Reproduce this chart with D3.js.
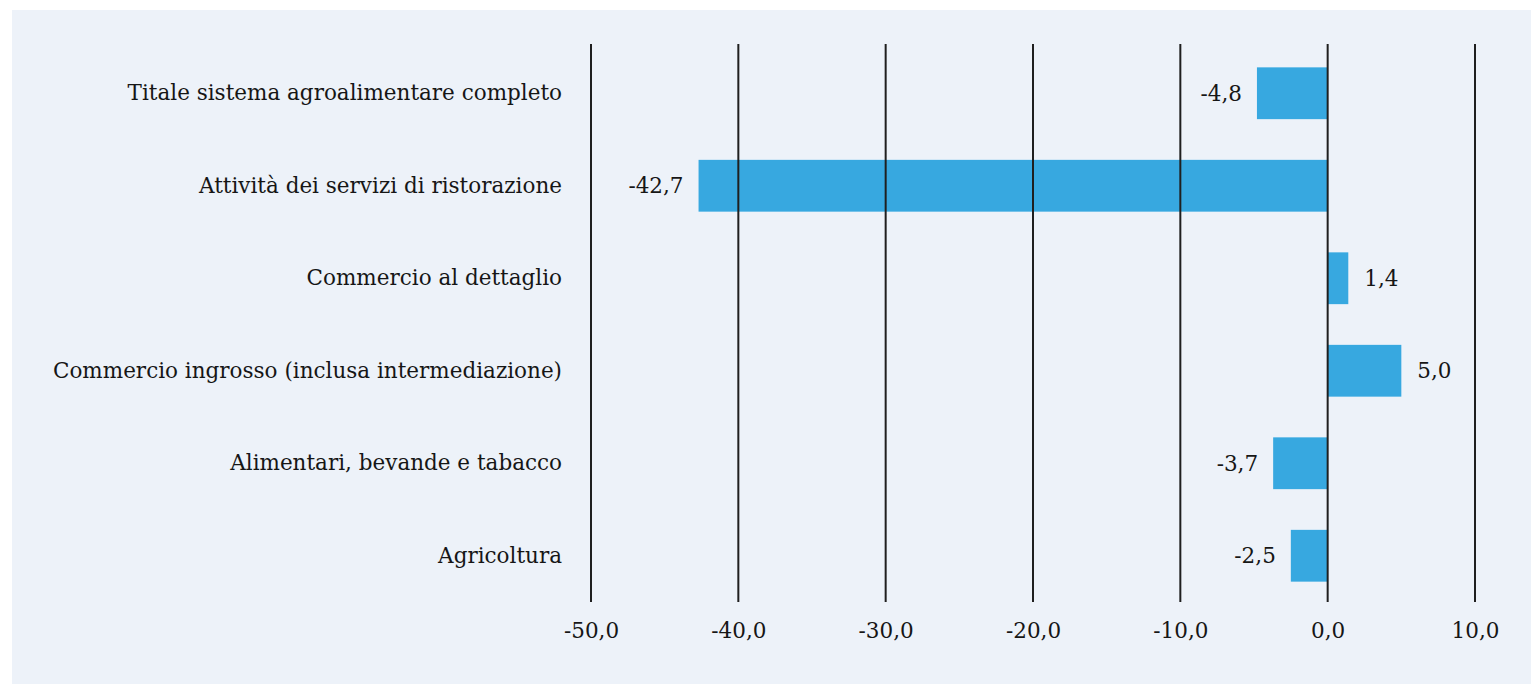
<!DOCTYPE html>
<html>
<head>
<meta charset="utf-8">
<script src="https://cdn.jsdelivr.net/npm/d3@7/dist/d3.min.js"></script>
<style>
  html, body { margin: 0; padding: 0; background: #ffffff; }
  svg { display: block; }
  text { font-family: "DejaVu Serif", "Liberation Serif", serif; fill: #161616; }
</style>
</head>
<body>
<svg id="chart" width="1531" height="684"></svg>
<script>
// Variazione percentuale per comparto del sistema agroalimentare
const categories = [
  "Titale sistema agroalimentare completo",
  "Attività dei servizi di ristorazione",
  "Commercio al dettaglio",
  "Commercio ingrosso (inclusa intermediazione)",
  "Alimentari, bevande e tabacco",
  "Agricoltura"
];
const values = [-4.8, -42.7, 1.4, 5.0, -3.7, -2.5];
const tickValues = [-50, -40, -30, -20, -10, 0, 10];

const svg = d3.select("#chart");
const W = 1531, H = 684;

// panel background
svg.append("rect")
  .attr("x", 12).attr("y", 10)
  .attr("width", W - 12).attr("height", H - 10)
  .attr("fill", "#edf2f9");

const plot = { left: 591, right: 1475, top: 44, bottom: 602 };

const it = d3.formatLocale({ decimal: ",", thousands: ".", grouping: [3], currency: ["€", ""], minus: "-" });
const fmt = it.format(".1f");

const x = d3.scaleLinear().domain([-50, 10]).range([plot.left, plot.right]);
const y = d3.scaleBand().domain(categories).range([47, plot.bottom]).paddingInner(0.44).paddingOuter(0.22);

const fontSize = "21.5px";

// bars
svg.append("g").selectAll("rect")
  .data(categories)
  .join("rect")
  .attr("x", (d, i) => x(Math.min(0, values[i])))
  .attr("y", d => y(d))
  .attr("width", (d, i) => Math.abs(x(values[i]) - x(0)))
  .attr("height", y.bandwidth())
  .attr("fill", "#37a8e0");

// vertical gridlines drawn over bars
svg.append("g").selectAll("line")
  .data(tickValues)
  .join("line")
  .attr("x1", d => x(d)).attr("x2", d => x(d))
  .attr("y1", plot.top).attr("y2", plot.bottom)
  .attr("stroke", "#1f1f1f")
  .attr("stroke-width", 2);

// x axis tick labels
const xAxis = d3.axisBottom(x).tickValues(tickValues).tickFormat(fmt).tickSize(0).tickPadding(0);
const gx = svg.append("g").attr("transform", `translate(0,${plot.bottom})`).call(xAxis);
gx.select(".domain").remove();
gx.selectAll("text")
  .attr("y", 36)
  .attr("dy", null)
  .style("font-family", '"DejaVu Serif", serif')
  .style("font-size", fontSize)
  .attr("fill", "#161616");

// category labels
const yAxis = d3.axisLeft(y).tickSize(0).tickPadding(0);
const gy = svg.append("g").attr("transform", "translate(562,0)").call(yAxis);
gy.select(".domain").remove();
gy.selectAll("text")
  .style("font-family", '"DejaVu Serif", serif')
  .style("font-size", fontSize)
  .attr("fill", "#161616");

// value labels
svg.append("g").selectAll("text")
  .data(categories)
  .join("text")
  .attr("x", (d, i) => values[i] < 0 ? x(values[i]) - 15 : x(values[i]) + 16)
  .attr("y", d => y(d) + y.bandwidth() / 2)
  .attr("dy", "0.35em")
  .attr("text-anchor", (d, i) => values[i] < 0 ? "end" : "start")
  .style("font-size", fontSize)
  .text((d, i) => fmt(values[i]));
</script>
</body>
</html>
